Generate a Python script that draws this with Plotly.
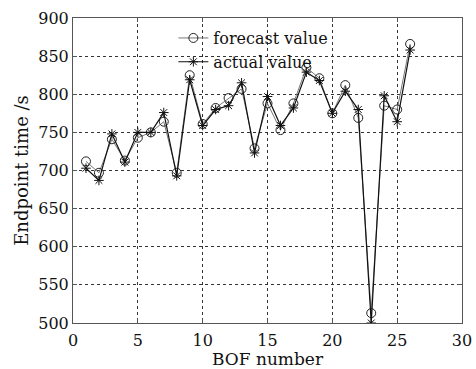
import plotly.graph_objects as go

bof = list(range(1, 27))
forecast = [712, 697, 741, 713, 743, 750, 764, 697, 825, 761, 782, 795, 807, 729, 788, 753,
            788, 835, 821, 775, 812, 769, 513, 785, 780, 866]
actual = [703, 687, 748, 711, 750, 750, 776, 693, 819, 759, 780, 785, 815, 723, 797, 759,
          782, 829, 818, 775, 804, 780, 500, 798, 764, 858]

font = "DejaVu Serif"
fig = go.Figure()
fig.add_trace(go.Scatter(x=bof, y=forecast, mode="lines+markers", name="forecast value",
                         line=dict(color="#777777", width=1),
                         marker=dict(symbol="circle-open", size=9, color="#222222",
                                     line=dict(width=1))))
fig.add_trace(go.Scatter(x=bof, y=actual, mode="lines+markers", name="actual value",
                         line=dict(color="#111111", width=1.2),
                         marker=dict(symbol="asterisk-open", size=8, color="#111111",
                                     line=dict(width=1))))

axis_common = dict(showline=True, linecolor="#555555", linewidth=1, mirror="ticks",
                   ticks="inside", ticklen=4, tickcolor="#555555", automargin=False,
                   showgrid=True, gridcolor="#333333", griddash="3px,3px", gridwidth=1,
                   zeroline=False, tickfont=dict(family=font, size=16, color="#111111"))
fig.update_xaxes(range=[0, 30], tickvals=[0, 5, 10, 15, 20, 25, 30], ticklabelstandoff=3,
                 title=dict(text="BOF number", font=dict(family=font, size=17, color="#111111"),
                            standoff=3), **axis_common)
fig.update_yaxes(range=[500, 900], tickvals=list(range(500, 901, 50)),
                 title=dict(text="Endpoint time /s", font=dict(family=font, size=18, color="#111111"),
                            standoff=4), **axis_common)
fig.update_layout(width=476, height=369, margin=dict(l=73, r=14, t=18, b=46),
                  paper_bgcolor="white", plot_bgcolor="white", showlegend=True,
                  legend=dict(x=0.258, y=0.99, xanchor="left", yanchor="top",
                              bgcolor="rgba(0,0,0,0)", tracegroupgap=0, itemwidth=30,
                              font=dict(family=font, size=16, color="#111111")))
fig.write_html("out.html")
